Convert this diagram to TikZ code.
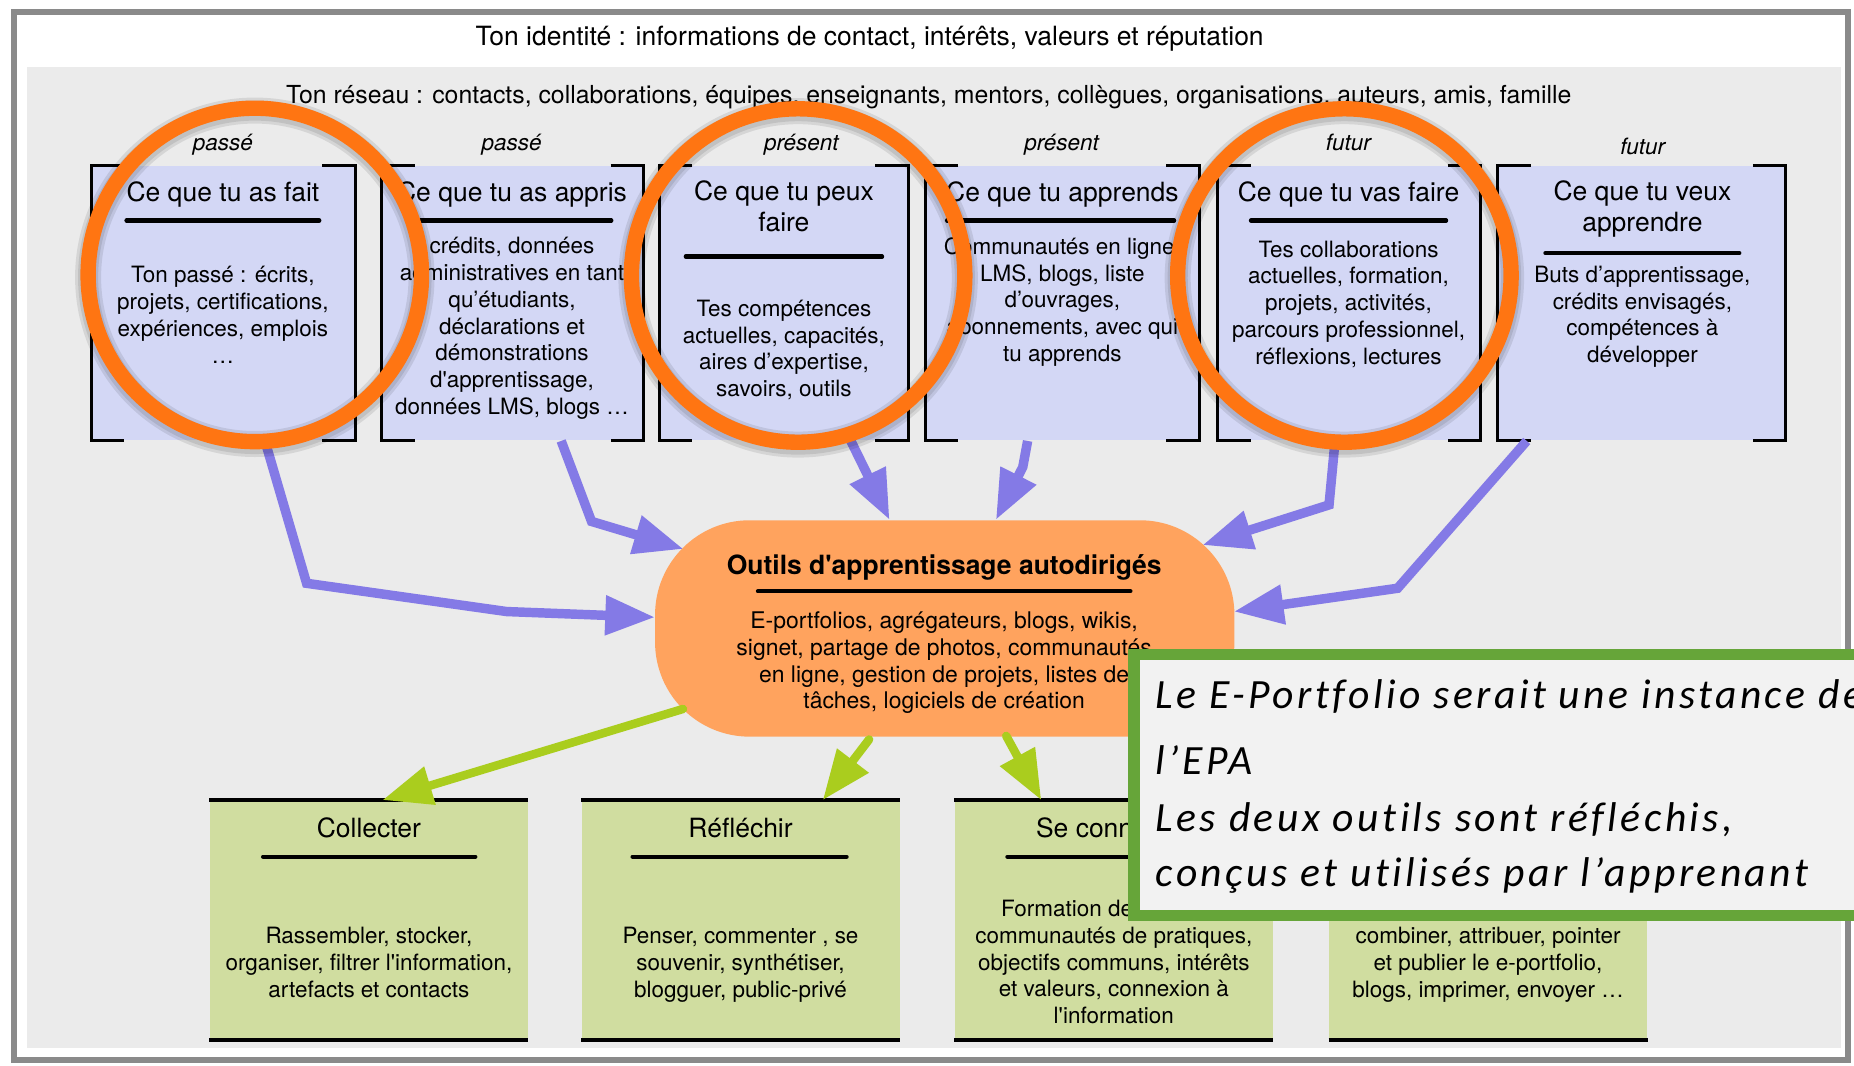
\documentclass[tikz,border=0pt]{standalone}
\usepackage{fontspec}
\setmainfont{TeX Gyre Heros}
\newfontfamily\callfont[LetterSpace=8.3,Ligatures=NoCommon]{Carlito}
\usetikzlibrary{arrows.meta,calc}
\definecolor{lav}{RGB}{211,215,245}
\definecolor{bgg}{RGB}{235,235,235}
\definecolor{hubor}{RGB}{255,163,94}
\definecolor{boxg}{RGB}{208,221,160}
\definecolor{arrb}{RGB}{132,122,230}
\definecolor{arrg}{RGB}{170,205,30}
\definecolor{ringor}{RGB}{255,117,18}
\definecolor{callg}{RGB}{102,165,57}
\definecolor{callbg}{RGB}{242,242,242}
\definecolor{frameg}{RGB}{138,138,138}
\begin{document}
\begin{tikzpicture}[x=0.5pt,y=-0.5pt,
  topbox/.style={fill=lav, draw=none, inner sep=0, minimum height=116pt},
  botbox/.style={fill=boxg, draw=none, inner sep=0, minimum height=101pt, minimum width=134.5pt},
  bracket/.style={line width=1.3pt, black, line cap=butt, line join=miter},
  barline/.style={line width=1.5pt, black},
  uline/.style={line width=1.8pt, line cap=round, black},
  hdr/.style={font=\fontsize{11.2}{13}\selectfont, inner sep=0, anchor=base},
  ttl/.style={font=\fontsize{11.2}{13}\selectfont, inner sep=0, anchor=base},
  ttlm/.style={font=\fontsize{11.2}{13}\selectfont, align=center, inner sep=0, anchor=north, execute at begin node=\strut, execute at end node=\strut},
  body/.style={font=\fontsize{9.5}{11.3}\selectfont, align=center, inner sep=0, anchor=north, execute at begin node=\strut, execute at end node=\strut},
  when/.style={font=\fontsize{9.5}{11}\selectfont\itshape, inner sep=0, anchor=base},
  barrow/.style={draw=arrb, line width=4pt, line join=miter, -{Triangle[length=21pt,width=16pt]}},
  garrow/.style={draw=arrg, line width=3.6pt, line cap=round, -{Triangle[length=21pt,width=16pt]}},
  call/.style={font=\callfont\itshape\fontsize{17.6}{20}\selectfont, anchor=base west, inner sep=0},
  ring/.style={draw=ringor, line width=6.5pt},
  ringshadow/.style={draw=black, opacity=0.09}
]
\useasboundingbox (0,0) rectangle (1568,901);
\fill[white] (0,0) rectangle (1568,901);
\draw[frameg, line width=2.5pt] (12,10) rectangle (1563,896.5);
\fill[bgg] (22.6,57) rectangle (1557,886);

% headers
\node[hdr] (ident) at (735.5,38.7) {Ton identité : informations de contact, intérêts, valeurs et réputation};
\node[hdr, font=\fontsize{10.5}{13}\selectfont] (reseau) at (785.5,87.3) {Ton réseau : contacts, collaborations, équipes, enseignants, mentors, collègues, organisations, auteurs, amis, famille};

% top boxes
\node[topbox, minimum width=111.25pt] (t1) at (188.75,256.5) {};
\node[topbox, minimum width=110.5pt] (t2) at (433.5,256.5) {};
\node[topbox, minimum width=105pt] (t3) at (663,256.5) {};
\node[topbox, minimum width=115.5pt] (t4) at (898.5,256.5) {};
\node[topbox, minimum width=111pt] (t5) at (1141,256.5) {};
\node[topbox, minimum width=121.5pt] (t6) at (1388.5,256.5) {};
\foreach \n in {t1,t2,t3,t4,t5,t6} {
  \draw[bracket] ($(\n.north west)+(28,0)$) -- (\n.north west) -- (\n.south west) -- ($(\n.south west)+(28,0)$);
  \draw[bracket] ($(\n.north east)+(-28,0)$) -- (\n.north east) -- (\n.south east) -- ($(\n.south east)+(-28,0)$);
}

% time labels
\node[when] (w1) at (188.5,127.6) {passé};
\node[when] (w2) at (432.7,127.6) {passé};
\node[when] (w3) at (677.7,127.6) {présent};
\node[when] (w4) at (897.8,127.6) {présent};
\node[when] (w5) at (1140.4,127.6) {futur};
\node[when] (w6) at (1389.3,130.5) {futur};

% titles
\node[ttl] (t1t) at (188.5,170.5) {Ce que tu as fait};
\node[ttl] (t2t) at (433,170.5) {Ce que tu as appris};
\node[ttlm] (t3t) at (663,152.3) {Ce que tu peux\\faire};
\node[ttl] (t4t) at (898.5,170.5) {Ce que tu apprends};
\node[ttl] (t5t) at (1140.5,170.5) {Ce que tu vas faire};
\node[ttlm] (t6t) at (1389,152.3) {Ce que tu veux\\apprendre};
\draw[uline] (107,186.5) -- (270,186.5);
\draw[uline] (350,186.5) -- (517,186.5);
\draw[uline] (580,217) -- (746,217);
\draw[uline] (801,186.5) -- (993,186.5);
\draw[uline] (1058,186.5) -- (1223,186.5);
\draw[uline] (1307,214) -- (1471,214);

% bodies
\node[body] (t1b) at (188.5,225) {Ton passé : écrits,\\projets, certifications,\\expériences, emplois\\…};
\node[body] (t2b) at (433,200.5) {crédits, données\\administratives en tant\\qu’étudiants,\\déclarations et\\démonstrations\\d\textquotesingle apprentissage,\\données LMS, blogs …};
\node[body] (t3b) at (663,253.4) {Tes compétences\\actuelles, capacités,\\aires d’expertise,\\savoirs, outils};
\node[body] (t4b) at (898.5,200.5) {Communautés en ligne,\\LMS, blogs, liste\\d’ouvrages,\\abonnements, avec qui\\tu apprends};
\node[body] (t5b) at (1140.5,203.3) {Tes collaborations\\actuelles, formation,\\projets, activités,\\parcours professionnel,\\réflexions, lectures};
\node[body] (t6b) at (1389,224.7) {Buts d’apprentissage,\\crédits envisagés,\\compétences à\\développer};

% hub
\node[fill=hubor, minimum width=245pt, minimum height=91.5pt, rounded corners=40pt, inner sep=0] (hub) at (799,531.5) {};
\node[font=\fontsize{11.2}{13}\selectfont\bfseries, anchor=base, inner sep=0] (hubt) at (798.5,486) {Outils d\textquotesingle apprentissage autodirigés};
\draw[uline] (641,500) -- (956,500);
\node[body, font=\fontsize{9.7}{11.3}\selectfont] (hubb) at (798.5,517) {E-portfolios, agrégateurs, blogs, wikis,\\signet, partage de photos, communautés\\en ligne, gestion de projets, listes de\\tâches, logiciels de création};

% bottom boxes
\node[botbox] (b1) at (312,778) {};
\node[botbox] (b2) at (626.3,778) {};
\node[botbox] (b3) at (942,778) {};
\node[botbox] (b4) at (1258.5,778) {};
\foreach \n in {b1,b2,b3,b4} {
  \draw[barline] (\n.north west) -- (\n.north east);
  \draw[barline] (\n.south west) -- (\n.south east);
}
\node[ttl] (b1t) at (312,708) {Collecter};
\node[ttl] (b2t) at (626.3,708) {Réfléchir};
\node[ttl] (b3t) at (942,708) {Se connecter};
\node[ttl] (b4t) at (1258.5,708) {Publier};
\draw[uline] (222.5,724.5) -- (402,724.5);
\draw[uline] (535,724.5) -- (716,724.5);
\draw[uline] (852,724.5) -- (1032,724.5);
\draw[uline] (1168.5,724.5) -- (1348.5,724.5);
\node[body] (b1b) at (312,784) {Rassembler, stocker,\\organiser, filtrer l\textquotesingle information,\\artefacts et contacts};
\node[body] (b2b) at (626.3,784) {Penser, commenter , se\\souvenir, synthétiser,\\blogguer, public-privé};
\node[body] (b3b) at (942,761) {Formation de groupes,\\communautés de pratiques,\\objectifs communs, intérêts\\et valeurs, connexion à\\l\textquotesingle information};
\node[body] (b4b) at (1258.5,761) {Sélectionner, remixer,\\combiner, attribuer, pointer\\et publier le e-portfolio,\\blogs, imprimer, envoyer …};

% blue arrows
\draw[barrow] ($(t1.south west)+(147,0)$) -- (259.3,493.3) -- (428.5,517.2) -- ($(hub.center)+(-245.1,-9.5)$);
\draw[barrow] ($(t2.south west)+(152,0)$) -- (500.3,441) -- ($(hub.center)+(-221,-67.2)$);
\draw[barrow] ($(t3.south west)+(162,0)$) -- ($(hub.north)+(-46.7,0)$);
\draw[barrow] ($(t4.south west)+(86.5,0)$) -- (865,395) -- ($(hub.north)+(43.3,0)$);
\draw[barrow] ($(t5.south west)+(99.5,0)$) -- (1124,427) -- ($(hub.center)+(218,-70.5)$);
\draw[barrow] ($(t6.south west)+(24.6,0)$) -- (1182,497.5) -- ($(hub.center)+(244.6,-14.3)$);

% green arrows
\draw[garrow] ($(hub.center)+(-221.4,68.1)$) -- ($(b1.north west)+(146.4,0)$);
\draw[garrow] ($(hub.south)+(-64,2)$) -- ($(b2.north west)+(204.5,0)$);
\draw[garrow] ($(hub.south)+(52,-1)$) -- ($(b3.north west)+(73.5,0)$);

% orange rings
\foreach \cx/\cy in {215.5/232.5, 675/233, 1137/233} {
  \draw[ringshadow, line width=11pt] (\cx,\cy+2) circle[radius=141];
  \draw[ringshadow, line width=8.5pt] (\cx,\cy+2) circle[radius=141];
  \draw[ring] (\cx,\cy) circle[radius=141];
}

% callout
\begin{scope}
\clip (0,0) rectangle (1568,901);
\draw[draw=callg, fill=callbg, line width=4.75pt] (959,553.5) rectangle (1620,774.5);
\node[call] (n1) at (977,599) {Le E-Portfolio serait une instance de};
\node[call] (n2) at (977,655) {l’EPA};
\node[call] (n3) at (977,703) {Les deux outils sont réfléchis,};
\node[call] (n4) at (977,750) {conçus et utilisés par l’apprenant};
\end{scope}
\end{tikzpicture}
\end{document}
